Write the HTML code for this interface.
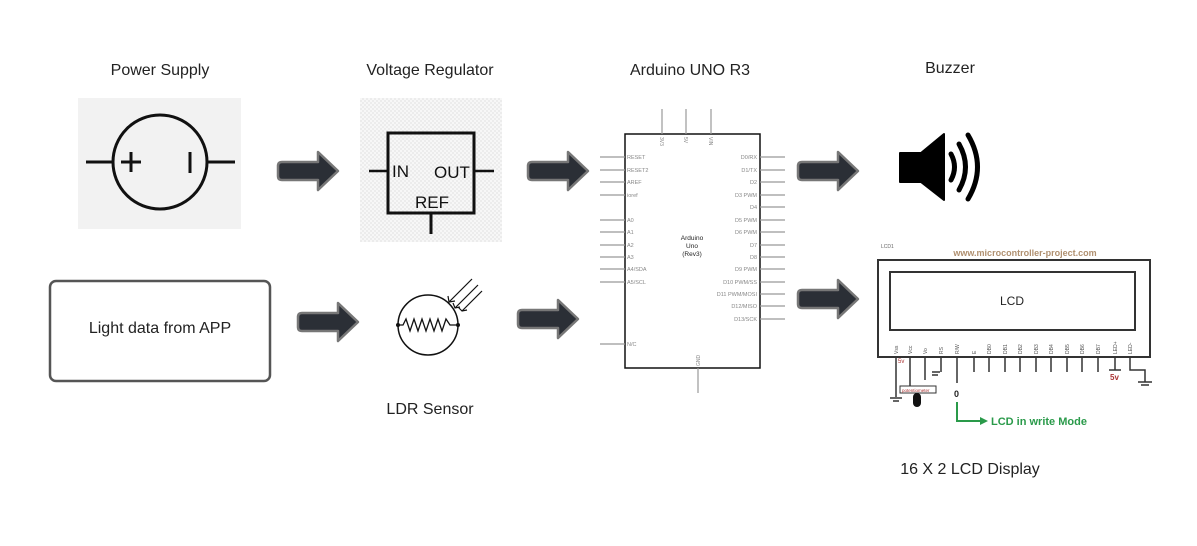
<!DOCTYPE html>
<html><head><meta charset="utf-8"><style>
body{margin:0;background:#fff;width:1197px;height:541px;overflow:hidden;font-family:"Liberation Sans",sans-serif}
</style></head><body>
<svg width="1197" height="541" viewBox="0 0 1197 541" xmlns="http://www.w3.org/2000/svg" font-family="Liberation Sans, sans-serif">
<defs>
<pattern id="chk" width="4" height="4" patternUnits="userSpaceOnUse"><rect width="4" height="4" fill="#f7f7f7"/><rect width="2" height="2" fill="#ececec"/><rect x="2" y="2" width="2" height="2" fill="#ececec"/></pattern>
<g id="arr"><path d="M4,10 H40 V0 L60,19 L40,38 V28 H4 Q0,28 0,24 V14 Q0,10 4,10 Z" fill="#2b2f36" stroke="#777" stroke-width="2.5" stroke-linejoin="round"/></g>
</defs>
<!-- titles -->
<g font-size="16" fill="#222" text-anchor="middle">
<text x="160" y="75">Power Supply</text>
<text x="430" y="75">Voltage Regulator</text>
<text x="690" y="75">Arduino UNO R3</text>
<text x="950" y="73">Buzzer</text>
<text x="430" y="414">LDR Sensor</text>
<text x="970" y="474">16 X 2 LCD Display</text>
</g>
<!-- power supply -->
<rect x="78" y="98" width="163" height="131" fill="#f2f2f2"/>
<circle cx="160" cy="162" r="47" fill="none" stroke="#111" stroke-width="3"/>
<line x1="86" y1="162" x2="113" y2="162" stroke="#111" stroke-width="3"/>
<line x1="207" y1="162" x2="235" y2="162" stroke="#111" stroke-width="3"/>
<line x1="121" y1="162" x2="141" y2="162" stroke="#111" stroke-width="3"/>
<line x1="131" y1="152" x2="131" y2="172" stroke="#111" stroke-width="3"/>
<line x1="190" y1="152" x2="190" y2="173" stroke="#111" stroke-width="3"/>
<!-- regulator -->
<rect x="360" y="98" width="142" height="144" fill="url(#chk)"/>
<rect x="388" y="133" width="86" height="80" fill="none" stroke="#111" stroke-width="3"/>
<line x1="369" y1="171" x2="388" y2="171" stroke="#111" stroke-width="2.5"/>
<line x1="474" y1="171" x2="494" y2="171" stroke="#111" stroke-width="2.5"/>
<line x1="431" y1="213" x2="431" y2="234" stroke="#111" stroke-width="3"/>
<g font-size="17" fill="#111"><text x="392" y="177">IN</text><text x="434" y="178">OUT</text><text x="415" y="208">REF</text></g>
<!-- arrows -->
<use href="#arr" x="278" y="152"/>
<use href="#arr" x="528" y="152"/>
<use href="#arr" x="798" y="152"/>
<use href="#arr" x="298" y="303"/>
<use href="#arr" x="518" y="300"/>
<use href="#arr" x="798" y="280"/>
<!-- light data box -->
<rect x="50" y="281" width="220" height="100" rx="6" fill="#fff" stroke="#555" stroke-width="2.5"/>
<text x="160" y="333" font-size="16" text-anchor="middle" fill="#222">Light data from APP</text>
<!-- LDR -->
<circle cx="428" cy="325" r="30" fill="none" stroke="#111" stroke-width="1.5"/>
<polyline points="398,325 403,325 406,319 410,331 414,319 418,331 422,319 426,331 430,319 434,331 438,319 442,331 446,319 450,325 458,325" fill="none" stroke="#111" stroke-width="1.3"/>
<circle cx="398" cy="325" r="2" fill="#111"/><circle cx="458" cy="325" r="2" fill="#111"/>
<g stroke="#111" stroke-width="1.2" fill="none">
<line x1="472" y1="279" x2="449" y2="302"/><line x1="478" y1="285" x2="455" y2="308"/><line x1="482" y1="291" x2="462" y2="311"/>
<polyline points="448,296 449,302 455,301"/><polyline points="453,303 455,308 460,307"/><polyline points="458,307 462,311 467,310"/>
</g>
<!-- arduino -->
<rect x="625" y="134" width="135" height="234" fill="#fff" stroke="#111" stroke-width="1.5"/>
<g stroke="#999" stroke-width="1.2">
<line x1="662" y1="109" x2="662" y2="134"/><line x1="686" y1="109" x2="686" y2="134"/><line x1="711" y1="109" x2="711" y2="134"/>
<line x1="698" y1="368" x2="698" y2="393"/>
<line x1="600" y1="157" x2="625" y2="157"/><line x1="600" y1="170" x2="625" y2="170"/><line x1="600" y1="182" x2="625" y2="182"/><line x1="600" y1="195" x2="625" y2="195"/>
<line x1="600" y1="220" x2="625" y2="220"/><line x1="600" y1="232" x2="625" y2="232"/><line x1="600" y1="245" x2="625" y2="245"/><line x1="600" y1="257" x2="625" y2="257"/><line x1="600" y1="269" x2="625" y2="269"/><line x1="600" y1="282" x2="625" y2="282"/><line x1="600" y1="344" x2="625" y2="344"/>
<line x1="760" y1="157" x2="785" y2="157"/><line x1="760" y1="170" x2="785" y2="170"/><line x1="760" y1="182" x2="785" y2="182"/><line x1="760" y1="195" x2="785" y2="195"/><line x1="760" y1="207" x2="785" y2="207"/><line x1="760" y1="220" x2="785" y2="220"/><line x1="760" y1="232" x2="785" y2="232"/><line x1="760" y1="245" x2="785" y2="245"/><line x1="760" y1="257" x2="785" y2="257"/><line x1="760" y1="269" x2="785" y2="269"/><line x1="760" y1="282" x2="785" y2="282"/><line x1="760" y1="294" x2="785" y2="294"/><line x1="760" y1="306" x2="785" y2="306"/><line x1="760" y1="319" x2="785" y2="319"/>
</g>
<g font-size="5.5" fill="#888">
<text x="627" y="159">RESET</text><text x="627" y="172">RESET2</text><text x="627" y="184">AREF</text><text x="627" y="197">ioref</text>
<text x="627" y="222">A0</text><text x="627" y="234">A1</text><text x="627" y="247">A2</text><text x="627" y="259">A3</text><text x="627" y="271">A4/SDA</text><text x="627" y="284">A5/SCL</text><text x="627" y="346">N/C</text>
</g>
<g font-size="5.5" fill="#888" text-anchor="end">
<text x="757" y="159">D0/RX</text><text x="757" y="172">D1/TX</text><text x="757" y="184">D2</text><text x="757" y="197">D3 PWM</text><text x="757" y="209">D4</text><text x="757" y="222">D5 PWM</text><text x="757" y="234">D6 PWM</text><text x="757" y="247">D7</text><text x="757" y="259">D8</text><text x="757" y="271">D9 PWM</text><text x="757" y="284">D10 PWM/SS</text><text x="757" y="296">D11 PWM/MOSI</text><text x="757" y="308">D12/MISO</text><text x="757" y="321">D13/SCK</text>
</g>
<g font-size="5" fill="#888">
<text transform="translate(660,137) rotate(90)">3V3</text><text transform="translate(684,137) rotate(90)">5V</text><text transform="translate(709,137) rotate(90)">VIN</text><text transform="translate(700,366) rotate(-90)">GND</text>
</g>
<g font-size="6.5" fill="#222" text-anchor="middle"><text x="692" y="240">Arduino</text><text x="692" y="248">Uno</text><text x="692" y="256">(Rev3)</text></g>
<!-- buzzer -->
<path d="M900,153 H921 L944,134 V200 L921,182 H900 Z" fill="#000" stroke="#000" stroke-linejoin="round" stroke-width="2"/>
<g fill="none" stroke="#000" stroke-width="5" stroke-linecap="round">
<path d="M951,154 Q958,167 951,180"/><path d="M959,144 Q972,167 959,190"/><path d="M968,135 Q987,167 968,199"/>
</g>
<!-- LCD -->
<text x="881" y="248" font-size="5" fill="#666">LCD1</text>
<text x="1025" y="256" font-size="9" font-weight="bold" fill="#b09070" text-anchor="middle">www.microcontroller-project.com</text>
<rect x="878" y="260" width="272" height="97" fill="#fff" stroke="#333" stroke-width="2"/>
<rect x="890" y="272" width="245" height="58" fill="#fff" stroke="#333" stroke-width="2"/>
<text x="1012" y="305" font-size="12" fill="#222" text-anchor="middle">LCD</text>
<g stroke="#333" stroke-width="1.5">
<line x1="896" y1="357" x2="896" y2="397"/><line x1="910" y1="357" x2="910" y2="388"/><line x1="925" y1="357" x2="925" y2="380"/><line x1="941" y1="357" x2="941" y2="372"/><line x1="957" y1="357" x2="957" y2="383"/>
<line x1="974" y1="357" x2="974" y2="372"/><line x1="989" y1="357" x2="989" y2="372"/><line x1="1005" y1="357" x2="1005" y2="372"/><line x1="1020" y1="357" x2="1020" y2="372"/><line x1="1036" y1="357" x2="1036" y2="372"/><line x1="1051" y1="357" x2="1051" y2="372"/><line x1="1067" y1="357" x2="1067" y2="372"/><line x1="1082" y1="357" x2="1082" y2="372"/><line x1="1098" y1="357" x2="1098" y2="372"/><line x1="1115" y1="357" x2="1115" y2="370"/>
<polyline points="1130,357 1130,370 1145,370 1145,382" fill="none"/><line x1="1138" y1="382" x2="1152" y2="382"/><line x1="1141" y1="385" x2="1149" y2="385"/>
<line x1="1109" y1="370" x2="1121" y2="370"/>
<line x1="890" y1="398" x2="902" y2="398"/><line x1="893" y1="401" x2="899" y2="401"/>
<line x1="932" y1="372" x2="940" y2="372"/><line x1="932" y1="375" x2="938" y2="375"/>
</g>
<g font-size="5" fill="#555">
<text transform="translate(898,354) rotate(-90)">Vss</text><text transform="translate(912,354) rotate(-90)">Vcc</text><text transform="translate(927,354) rotate(-90)">Vo</text><text transform="translate(943,354) rotate(-90)">RS</text><text transform="translate(959,354) rotate(-90)">R/W</text><text transform="translate(976,354) rotate(-90)">E</text><text transform="translate(991,354) rotate(-90)">DB0</text><text transform="translate(1007,354) rotate(-90)">DB1</text><text transform="translate(1022,354) rotate(-90)">DB2</text><text transform="translate(1038,354) rotate(-90)">DB3</text><text transform="translate(1053,354) rotate(-90)">DB4</text><text transform="translate(1069,354) rotate(-90)">DB5</text><text transform="translate(1084,354) rotate(-90)">DB6</text><text transform="translate(1100,354) rotate(-90)">DB7</text><text transform="translate(1117,354) rotate(-90)">LED+</text><text transform="translate(1132,354) rotate(-90)">LED-</text>
</g>
<text x="898" y="363" font-size="6" fill="#a33">5v</text>
<text x="1110" y="380" font-size="8" font-weight="bold" fill="#a33">5v</text>
<rect x="900" y="386" width="36" height="7" fill="#fff" stroke="#333"/>
<text x="902" y="392" font-size="4.5" fill="#a33">potentiometer</text>
<rect x="913" y="393" width="8" height="14" rx="4" fill="#111"/>
<text x="954" y="397" font-size="9" font-weight="bold" fill="#222">0</text>
<polyline points="957,402 957,421 980,421" fill="none" stroke="#2a9a4a" stroke-width="2"/>
<path d="M980,417 L988,421 L980,425 Z" fill="#2a9a4a"/>
<text x="991" y="425" font-size="11" font-weight="bold" fill="#2a9a4a">LCD in write Mode</text>
</svg>
</body></html>
